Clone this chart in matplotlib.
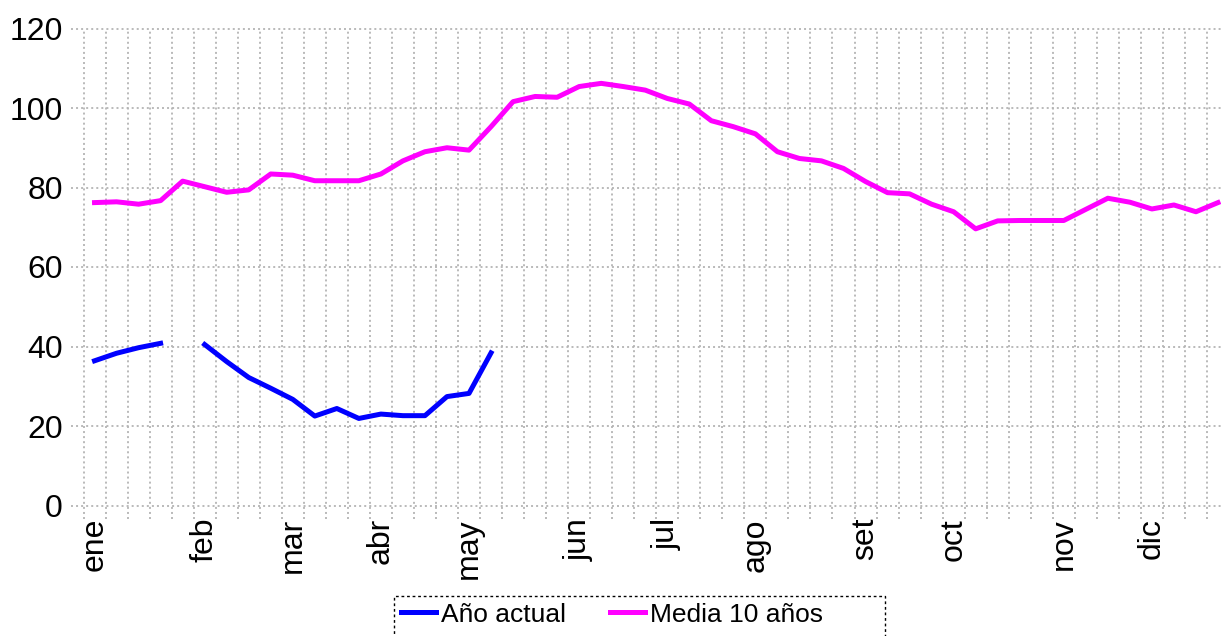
import numpy as np
from matplotlib import pyplot as plt
from matplotlib.patches import Rectangle

plt.rcParams['font.family'] = ['Liberation Sans', 'DejaVu Sans']

# valores semanales
media_10 = [76.2, 76.4, 75.8, 76.7, 81.6, 80.2, 78.8, 79.4, 83.4, 83.1,
            81.7, 81.7, 81.7, 83.4, 86.7, 89.0, 90.0, 89.4, 95.3, 101.6,
            102.9, 102.7, 105.4, 106.2, 105.4, 104.5, 102.4, 101.0, 96.8, 95.3,
            93.5, 89.0, 87.3, 86.7, 84.8, 81.5, 78.7, 78.4, 75.8, 73.9,
            69.6, 71.6, 71.7, 71.7, 71.7, 74.5, 77.3, 76.3, 74.6, 75.6,
            73.9, 76.2]
anio_actual = [36.4, 38.3, 39.7, 40.8, np.nan, 40.5, 36.2, 32.2, 29.5, 26.7,
               22.5, 24.4, 21.9, 23.0, 22.6, 22.6, 27.4, 28.2, 38.4]

meses = ['ene', 'feb', 'mar', 'abr', 'may', 'jun', 'jul', 'ago', 'set', 'oct', 'nov', 'dic']
semana_mes = [0, 5, 9, 13, 17, 22, 26, 30, 35, 39, 44, 48]
y_ticks = [0, 20, 40, 60, 80, 100, 120]

W, H = 1221, 636
fig = plt.figure(figsize=(W / 100, H / 100), dpi=100)
ax_l, ax_r, ax_t, ax_b = 83.5, 1229.0, 28.5, 505.5
ax = fig.add_axes([ax_l / W, 1 - ax_b / H, (ax_r - ax_l) / W, (ax_b - ax_t) / H])

n = len(media_10)
ax.set_xlim(-0.5, n - 0.5)
ax.set_ylim(0, 120)
for s in ax.spines.values():
    s.set_visible(False)

grid_kw = dict(color='#b4b4b4', lw=1.3, ls=(0, (1.1, 1.7)), clip_on=False, zorder=1)
ext_x = 13.0 / (ax_r - ax_l)
ext_y = 13.0 / (ax_b - ax_t)
for yv in y_ticks:
    ax.axhline(yv, xmin=-ext_x, xmax=1, **grid_kw)
for b in np.arange(n) - 0.5:
    ax.axvline(b, ymin=-ext_y, ymax=1, **grid_kw)

ax.plot(np.arange(n), media_10, color='#ff00ff', lw=3.6, label='Media 10 años', zorder=3)
ax.plot(np.arange(len(anio_actual)), anio_actual, color='#0000ff', lw=3.6, label='Año actual', zorder=3)

ax.set_yticks(y_ticks)
ax.set_yticklabels([str(v) for v in y_ticks], fontsize=23)
ax.set_xticks(semana_mes)
ax.set_xticklabels(meses, rotation=90, fontsize=23)
ax.tick_params(axis='y', length=0, pad=15)
ax.tick_params(axis='x', length=0, pad=9)

handles, labels = ax.get_legend_handles_labels()
leg = fig.legend(handles[::-1], labels[::-1], loc='upper left', ncol=2,
                 bbox_to_anchor=(398 / W, 1 - 600 / H), frameon=False,
                 fontsize=19, handlelength=1.33, handletextpad=0.2,
                 columnspacing=1.65, borderaxespad=0, borderpad=0.1)
fig.add_artist(Rectangle((394 / W, -0.05), (885 - 394) / W, 0.05 + 1 - 596 / H,
                         transform=fig.transFigure, fill=False, ec='black',
                         lw=1, ls=(0, (2, 2))))

fig.savefig('out.png', dpi=100)
